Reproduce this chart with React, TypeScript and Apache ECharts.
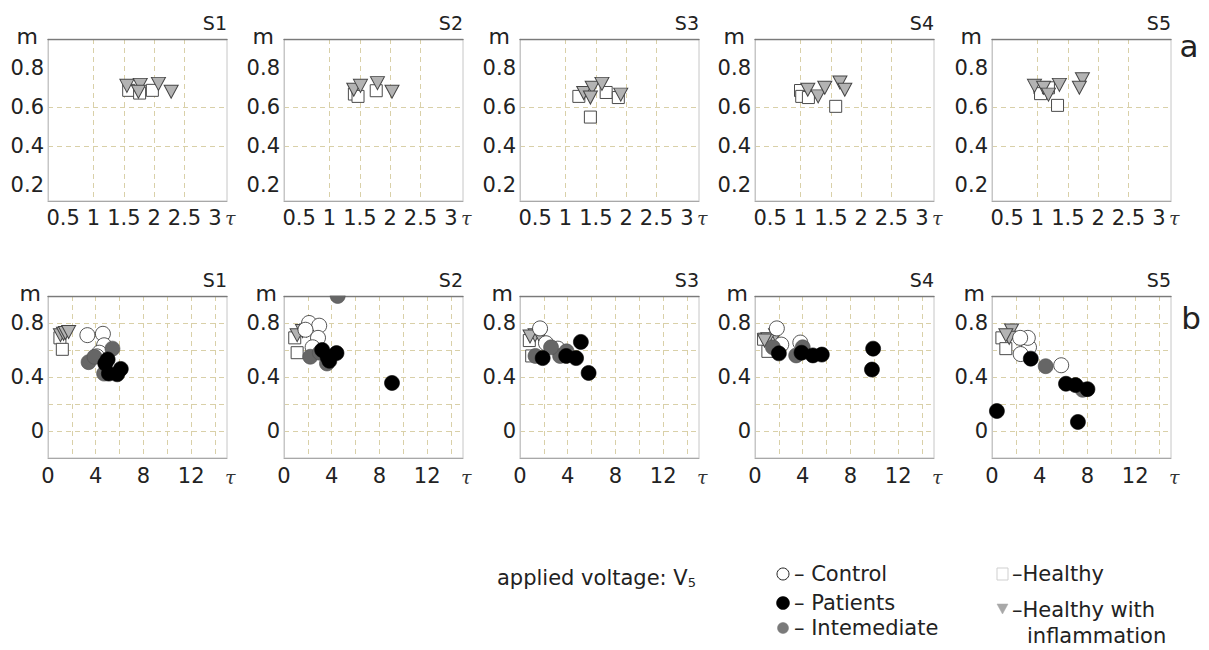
import React, { useEffect, useRef } from "react";
import * as echarts from "echarts";

// ---------- labels ----------
const panelNames = ["S1", "S2", "S3", "S4", "S5"];
const rowLetters = ["a", "b"];
const topXTicks = [0.5, 1, 1.5, 2, 2.5, 3];
const topYTicks = [0.2, 0.4, 0.6, 0.8];

// ---------- row a (tau, m) ----------
const aS1Healthy = [[1.58, 0.687], [1.76, 0.673], [1.97, 0.687]];
const aS1Inflam = [[1.55, 0.71], [1.77, 0.715], [1.74, 0.68], [2.07, 0.72], [2.28, 0.68]];
const aS2Healthy = [[1.41, 0.668], [1.47, 0.656], [1.77, 0.685]];
const aS2Inflam = [[1.4, 0.69], [1.51, 0.71], [1.79, 0.724], [2.03, 0.68]];
const aS3Healthy = [[1.22, 0.656], [1.41, 0.55], [1.67, 0.676], [1.87, 0.65]];
const aS3Inflam = [[1.3, 0.673], [1.44, 0.7], [1.41, 0.65], [1.6, 0.72], [1.91, 0.665]];
const aS4Healthy = [[1.0, 0.686], [1.02, 0.656], [1.13, 0.65], [1.58, 0.605]];
const aS4Inflam = [[1.12, 0.69], [1.29, 0.656], [1.4, 0.7], [1.65, 0.727], [1.73, 0.69]];
const aS5Healthy = [[1.04, 0.7], [1.05, 0.67], [1.18, 0.7], [1.33, 0.61]];
const aS5Inflam = [[0.95, 0.71], [1.1, 0.7], [1.18, 0.665], [1.36, 0.715], [1.74, 0.744], [1.69, 0.7]];

// ---------- row b (tau, m) ----------
const bS1Healthy = [[1.0, 0.69], [1.2, 0.605]];
const bS1Inflam = [[1.04, 0.71], [1.3, 0.72], [1.46, 0.726], [1.73, 0.733]];
const bS1Control = [[3.3, 0.71], [4.6, 0.72], [4.7, 0.635], [4.3, 0.58], [4.1, 0.553]];
const bS1Inter = [[3.4, 0.51], [5.4, 0.61], [4.7, 0.425], [3.9, 0.55]];
const bS1Patients = [[5.0, 0.53], [5.1, 0.425], [6.1, 0.46], [5.8, 0.42], [4.8, 0.5]];

const bS2Healthy = [[1.1, 0.58], [0.9, 0.69]];
const bS2Inflam = [[1.1, 0.71], [1.55, 0.74], [1.9, 0.745]];
const bS2Control = [[2.1, 0.8], [2.95, 0.78], [1.8, 0.75], [2.85, 0.69], [2.4, 0.62]];
const bS2Inter = [[4.5, 1.0], [2.2, 0.55], [3.6, 0.5], [3.0, 0.58]];
const bS2Patients = [[9.05, 0.356], [3.65, 0.55], [4.4, 0.577], [3.2, 0.6], [3.8, 0.52]];

const bS3Healthy = [[0.98, 0.556], [0.78, 0.67]];
const bS3Inflam = [[1.26, 0.71], [1.68, 0.7], [0.84, 0.7]];
const bS3Control = [[1.68, 0.76], [2.18, 0.65], [3.17, 0.61]];
const bS3Inter = [[3.36, 0.556], [3.9, 0.59], [2.6, 0.62], [1.3, 0.556]];
const bS3Patients = [[5.1, 0.66], [5.75, 0.43], [4.7, 0.54], [3.87, 0.556], [1.9, 0.54]];

const bS4Healthy = [[1.08, 0.59], [0.72, 0.68]];
const bS4Inflam = [[1.72, 0.71], [1.08, 0.68], [0.8, 0.67]];
const bS4Control = [[1.83, 0.76], [2.2, 0.64], [3.8, 0.655]];
const bS4Inter = [[3.45, 0.56], [4.0, 0.62], [1.5, 0.62]];
const bS4Patients = [[9.9, 0.61], [9.8, 0.455], [5.6, 0.566], [4.85, 0.56], [3.9, 0.58], [2.0, 0.575]];

const bS5Healthy = [[0.83, 0.69], [1.16, 0.61]];
const bS5Inflam = [[1.64, 0.745], [1.44, 0.69], [1.16, 0.71]];
const bS5Control = [[5.8, 0.487], [3.1, 0.62], [3.0, 0.69], [2.36, 0.69], [2.4, 0.57]];
const bS5Inter = [[4.5, 0.48], [7.6, 0.305]];
const bS5Patients = [[0.41, 0.148], [7.2, 0.067], [6.2, 0.35], [7.0, 0.34], [8.0, 0.31], [3.25, 0.536]];

const rowA = [
  { healthy: aS1Healthy, inflam: aS1Inflam },
  { healthy: aS2Healthy, inflam: aS2Inflam },
  { healthy: aS3Healthy, inflam: aS3Inflam },
  { healthy: aS4Healthy, inflam: aS4Inflam },
  { healthy: aS5Healthy, inflam: aS5Inflam },
];
const rowB = [
  { healthy: bS1Healthy, inflam: bS1Inflam, control: bS1Control, inter: bS1Inter, patients: bS1Patients },
  { healthy: bS2Healthy, inflam: bS2Inflam, control: bS2Control, inter: bS2Inter, patients: bS2Patients },
  { healthy: bS3Healthy, inflam: bS3Inflam, control: bS3Control, inter: bS3Inter, patients: bS3Patients },
  { healthy: bS4Healthy, inflam: bS4Inflam, control: bS4Control, inter: bS4Inter, patients: bS4Patients },
  { healthy: bS5Healthy, inflam: bS5Inflam, control: bS5Control, inter: bS5Inter, patients: bS5Patients },
];

const FONT = "DejaVu Sans";
const LEFTS = [48, 284, 520, 755, 992];
const W = 179;
const ROWS = [{ top: 39, height: 162, mGap: 10 }, { top: 296, height: 162, mGap: 7 }];

const kindStyle: Record<string, any> = {
  healthy: { symbol: "rect", symbolSize: 12, itemStyle: { color: "#ffffff", borderColor: "#4a4a4a", borderWidth: 1, opacity: 1 } },
  inflam: { symbol: "triangle", symbolRotate: 180, symbolSize: [14, 13], itemStyle: { color: "#b3b3b3", borderColor: "#454545", borderWidth: 1, opacity: 1 } },
  control: { symbol: "circle", symbolSize: 15, itemStyle: { color: "#ffffff", borderColor: "#2a2a2a", borderWidth: 0.8, opacity: 1 } },
  inter: { symbol: "circle", symbolSize: 15, itemStyle: { color: "#666666", borderColor: "#505050", borderWidth: 0.6, opacity: 1 } },
  patients: { symbol: "circle", symbolSize: 15, itemStyle: { color: "#000000", borderColor: "#000000", borderWidth: 0.6, opacity: 1 } },
};

const splitStyle = { show: true, showMinLine: false, showMaxLine: false, lineStyle: { color: "#d9d0a8", type: [5, 4], width: 1 } };

export default function App() {
  const ref = useRef<HTMLDivElement>(null);
  useEffect(() => {
    const chart = echarts.init(ref.current!, null, { renderer: "svg" });
    const grid: any[] = [];
    const xAxis: any[] = [];
    const yAxis: any[] = [];
    const series: any[] = [];
    const graphic: any[] = [];

    ROWS.forEach((row, r) => {
      LEFTS.forEach((left, p) => {
        const g = r * 5 + p;
        grid.push({ left, top: row.top, width: W, height: row.height, show: true, borderColor: "#c6c6c6", borderWidth: 1, backgroundColor: "transparent", outerBoundsMode: "none" });
        const isTop = r === 0;
        const xMin = isTop ? 0.25 : 0;
        const xMax = isTop ? 3.2 : 15;
        xAxis.push({
          gridIndex: g, type: "value", min: xMin, max: xMax,
          ...(isTop ? {} : { interval: 2 }),
          axisLine: { show: true, onZero: false, lineStyle: { color: "#a8a8a8" } },
          axisTick: isTop ? { show: false, customValues: topXTicks } : { show: false },
          axisLabel: isTop
            ? { customValues: topXTicks, fontFamily: FONT, fontSize: 21, color: "#222", margin: 6, align: "center" }
            : { fontFamily: FONT, fontSize: 21, color: "#222", margin: 7, align: "center", formatter: (v: number) => (Math.round(v) % 4 === 0 && Math.round(v) <= 12 ? String(Math.round(v)) : "") },
          splitLine: splitStyle,
          name: "τ", nameLocation: "end", nameGap: -2, nameMoveOverlap: false,
          nameTextStyle: { fontFamily: "DejaVu Serif", fontStyle: "italic", fontSize: 19, color: "#333", verticalAlign: "top", padding: [isTop ? 7 : 9, 0, 0, 0] },
        });
        xAxis.push({
          gridIndex: g, type: "value", position: "top", min: xMin, max: xMax,
          axisLine: { show: true, onZero: false, lineStyle: { color: "#7a7a7a", width: 1.3 } },
          axisTick: { show: false }, axisLabel: { show: false }, splitLine: { show: false },
        });
        yAxis.push({
          gridIndex: g, type: "value", position: "left",
          min: isTop ? 0.12 : -0.2, max: isTop ? 0.95 : 1.0,
          ...(isTop ? {} : { interval: 0.2 }),
          axisLine: { show: true, onZero: false, lineStyle: { color: "#c6c6c6" } },
          axisTick: isTop ? { show: false, customValues: topYTicks } : { show: false },
          axisLabel: isTop
            ? { customValues: topYTicks, fontFamily: FONT, fontSize: 21, color: "#222", margin: 4, align: "right" }
            : {
                fontFamily: FONT, fontSize: 21, color: "#222", margin: 4, align: "right",
                formatter: (v: number) => {
                  const k = Math.round(v * 10);
                  return k >= 0 && k % 4 === 0 && k <= 8 ? String(k / 10) : "";
                },
              },
          splitLine: splitStyle,
        });
        const groups: any = isTop ? rowA[p] : rowB[p];
        const order = isTop ? ["healthy", "inflam"] : ["healthy", "inflam", "control", "inter", "patients"];
        order.forEach((k) => {
          series.push({
            type: "scatter", name: k, xAxisIndex: 2 * g, yAxisIndex: g,
            data: groups[k], silent: true, clip: false,
            ...kindStyle[k],
          });
        });
        // white band above each plot (hides marks that spill over the top line)
        graphic.push({
          type: "rect", z: 50, silent: true,
          shape: { x: left, y: row.top - 14, width: W, height: 13.4 },
          style: { fill: "#ffffff" },
        });
        graphic.push({
          type: "text", z: 60, x: left + W, y: row.top - 16,
          style: { text: panelNames[p], fontFamily: FONT, fontSize: 19, fill: "#222", align: "right", verticalAlign: "middle" },
        });
        // y-axis name "m"
        graphic.push({
          type: "text", z: 60, x: left - row.mGap, y: row.top - 3,
          style: { text: "m", fontFamily: FONT, fontSize: 22, fill: "#222", align: "right", verticalAlign: "middle" },
        });
      });
    });

    graphic.push({ type: "text", x: 1189, y: 46, style: { text: rowLetters[0], fontFamily: FONT, fontSize: 31, fill: "#222", align: "center", verticalAlign: "middle" } });
    graphic.push({ type: "text", x: 1191, y: 318, style: { text: rowLetters[1], fontFamily: FONT, fontSize: 31, fill: "#222", align: "center", verticalAlign: "middle" } });

    // legend
    const lt = { fontFamily: FONT, fontSize: 21, fill: "#222", verticalAlign: "middle" };
    graphic.push({
      type: "text", x: 497, y: 578,
      style: { ...lt, text: "applied voltage: V{s|5}", rich: { s: { fontFamily: FONT, fontSize: 13, fill: "#222", verticalAlign: "bottom" } } },
    });
    graphic.push({ type: "circle", shape: { cx: 783, cy: 574, r: 6 }, style: { fill: "#fff", stroke: "#222", lineWidth: 1 } });
    graphic.push({ type: "text", x: 794, y: 574, style: { ...lt, text: "– Control" } });
    graphic.push({ type: "circle", shape: { cx: 783, cy: 603, r: 6.5 }, style: { fill: "#000", stroke: "#000", lineWidth: 0.5 } });
    graphic.push({ type: "text", x: 794, y: 603, style: { ...lt, text: "– Patients" } });
    graphic.push({ type: "circle", shape: { cx: 783, cy: 628, r: 5.5 }, style: { fill: "#7a7a7a", stroke: "#7a7a7a", lineWidth: 0.5 } });
    graphic.push({ type: "text", x: 794, y: 628, style: { ...lt, text: "– Intemediate" } });
    graphic.push({ type: "rect", shape: { x: 997, y: 568, width: 11, height: 12 }, style: { fill: "#fff", stroke: "#cfcfcf", lineWidth: 1 } });
    graphic.push({ type: "text", x: 1012, y: 574, style: { ...lt, text: "–Healthy" } });
    graphic.push({ type: "polygon", shape: { points: [[997, 604], [1008, 604], [1002.5, 614]] }, style: { fill: "#a8a8a8", stroke: "#a8a8a8", lineWidth: 0.5 } });
    graphic.push({ type: "text", x: 1012, y: 610, style: { ...lt, text: "–Healthy with" } });
    graphic.push({ type: "text", x: 1027, y: 636, style: { ...lt, text: "inflammation" } });

    chart.setOption({ animation: false, backgroundColor: "#fff", grid, xAxis, yAxis, series, graphic });
    return () => chart.dispose();
  }, []);
  return <div ref={ref} style={{ position: "fixed", left: 0, top: 0, width: 1209, height: 650, background: "#fff" }} />;
}
